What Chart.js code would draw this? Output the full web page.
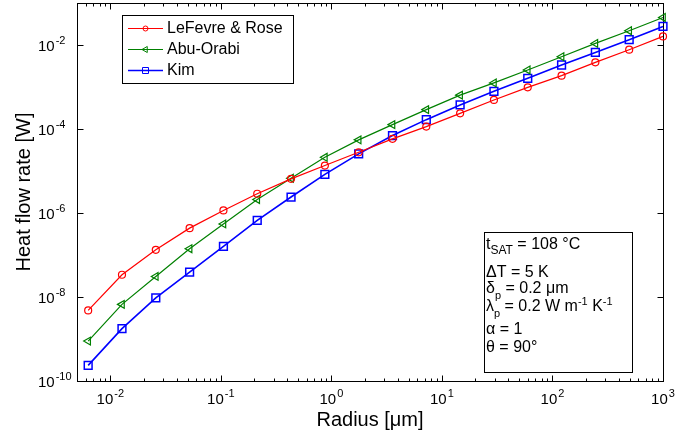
<!DOCTYPE html>
<html><head><meta charset="utf-8">
<script src="https://cdn.jsdelivr.net/npm/chart.js@4/dist/chart.umd.min.js"></script>
<style>html,body{margin:0;padding:0;background:#fff;}#wrap{width:689px;height:436px;}</style>
</head><body><div id="wrap"><canvas id="c" width="689" height="436"></canvas></div>
<script>
const radius = [0.00631, 0.01276, 0.02581, 0.0522, 0.1056, 0.2135, 0.4318, 0.8733, 1.766, 3.572, 7.224, 14.61, 29.55, 59.76, 120.9, 244.4, 494.4, 1000];
const lefevreRose = [4.8e-9, 3.39e-8, 1.33e-7, 4.36e-7, 1.15e-6, 2.87e-6, 6.51e-6, 1.35e-5, 2.79e-5, 5.82e-5, 1.14e-4, 2.36e-4, 4.92e-4, 9.81e-4, 1.86e-3, 3.86e-3, 7.73e-3, 1.60e-2];
const abuOrabi = [8.93e-10, 6.67e-9, 3.09e-8, 1.41e-7, 5.5e-7, 2.1e-6, 6.73e-6, 2.12e-5, 5.51e-5, 1.27e-4, 2.89e-4, 6.4e-4, 1.25e-3, 2.54e-3, 5.27e-3, 1.09e-2, 2.19e-2, 4.53e-2];
const kim = [2.36e-10, 1.76e-9, 9.53e-9, 3.91e-8, 1.6e-7, 6.7e-7, 2.4e-6, 8.3e-6, 2.56e-5, 6.97e-5, 1.67e-4, 3.74e-4, 7.88e-4, 1.61e-3, 3.34e-3, 6.67e-3, 1.34e-2, 2.77e-2];
const seriesNames = ['LeFevre & Rose', 'Abu-Orabi', 'Kim'];
const xTickValues = [0.01, 0.1, 1, 10, 100, 1000];
const yTickValues = [1e-10, 1e-8, 1e-6, 1e-4, 1e-2];
const xTitle = 'Radius [μm]';
const yTitle = 'Heat flow rate [W]';

const FONT = "'Liberation Sans', Arial, Helvetica, sans-serif";
function expOf(v){ return String(Math.round(Math.log10(v))); }
function powLabel(v){ return '10^' + expOf(v); }

const RED = '#ff0000', GREEN = '#008000', BLUE = '#0000ff';

function pts(arr){ return radius.map((x, i) => ({x: x, y: arr[i]})); }

function drawMarker(ctx, style, x, y, r, color, lw){
  ctx.save();
  ctx.strokeStyle = color; ctx.lineWidth = lw;
  ctx.beginPath();
  if (style === 'circle') { ctx.arc(x, y, r, 0, Math.PI*2); }
  else if (style === 'triL') {
    ctx.moveTo(x - r, y); ctx.lineTo(x + r*0.5, y - r*0.866); ctx.lineTo(x + r*0.5, y + r*0.866); ctx.closePath();
  } else if (style === 'rect') { ctx.rect(x - r, y - r, 2*r, 2*r); }
  ctx.stroke();
  ctx.restore();
}

function drawPow(ctx, v, x, y, align){
  const e = expOf(v);
  ctx.font = '15px ' + FONT; const w1 = ctx.measureText('10').width;
  ctx.font = '11px ' + FONT; const w2 = ctx.measureText(e).width;
  const x0 = align === 'center' ? x - (w1 + 1 + w2) / 2 : x;
  ctx.font = '15px ' + FONT; ctx.fillText('10', x0, y);
  ctx.font = '11px ' + FONT; ctx.fillText(e, x0 + w1 + 1, y - 7);
}

function drawRich(ctx, x, y, segs, baseSize){
  let cx = x;
  for (const s of segs){
    const size = s.size || baseSize;
    ctx.font = size + 'px ' + FONT;
    ctx.fillText(s.t, cx, y + (s.dy || 0));
    cx += ctx.measureText(s.t).width;
  }
}

const decor = {
  id: 'decor',
  beforeDatasetsDraw(chart){
    const ctx = chart.ctx, ca = chart.chartArea;
    const xs = chart.scales.x, ys = chart.scales.y;
    const L = Math.round(ca.left) + 0.5, R = Math.round(ca.right) + 0.5, T = Math.round(ca.top) + 0.5, B = Math.round(ca.bottom) + 0.5;
    ctx.save();
    ctx.strokeStyle = '#000'; ctx.lineWidth = 1;
    ctx.strokeRect(L, T, R - L, B - T);
    ctx.beginPath();
    for (let e = -3; e <= 3; e++){
      for (let m = 1; m <= 9; m++){
        const v = m * Math.pow(10, e);
        if (v < xs.min * 0.999 || v > xs.max * 1.001) continue;
        const px = Math.round(xs.getPixelForValue(v)) + 0.5;
        const len = m === 1 ? 6 : 3;
        ctx.moveTo(px, B); ctx.lineTo(px, B - len);
        ctx.moveTo(px, T); ctx.lineTo(px, T + len);
      }
    }
    for (const v of yTickValues){
      const py = Math.round(ys.getPixelForValue(v)) + 0.5;
      ctx.moveTo(L, py); ctx.lineTo(L + 6, py);
      ctx.moveTo(R, py); ctx.lineTo(R - 6, py);
    }
    ctx.stroke();
    ctx.fillStyle = '#000'; ctx.textBaseline = 'alphabetic'; ctx.textAlign = 'left';
    for (const t of xs.ticks){
      drawPow(ctx, t.value, xs.getPixelForValue(t.value), ca.bottom + 22.5, 'center');
    }
    for (const t of ys.ticks){
      drawPow(ctx, t.value, 38, ys.getPixelForValue(t.value) + 5.5, 'left');
    }
    ctx.restore();
  },
  afterDraw(chart){
    const ctx = chart.ctx;
    ctx.save();
    // legend
    ctx.fillStyle = '#fff'; ctx.fillRect(122, 15, 171, 68);
    ctx.strokeStyle = '#000'; ctx.lineWidth = 1; ctx.strokeRect(122.5, 15.5, 171, 68);
    const rows = [28.5, 49.5, 70.5];
    const cols = [RED, GREEN, BLUE];
    const styles = ['circle', 'triL', 'rect'];
    const sizes = [2.5, 3.5, 3];
    ctx.textBaseline = 'middle'; ctx.textAlign = 'left';
    chart.data.datasets.forEach((ds, i) => {
      const y = rows[i];
      ctx.strokeStyle = cols[i]; ctx.lineWidth = ds.borderWidth;
      ctx.beginPath(); ctx.moveTo(128, y); ctx.lineTo(163, y); ctx.stroke();
      drawMarker(ctx, styles[i], 145.5, y, sizes[i], cols[i], 1);
      ctx.fillStyle = '#000'; ctx.font = '16px ' + FONT;
      ctx.fillText(ds.label, 167, y + 0.5);
    });
    // annotation box
    ctx.fillStyle = '#fff'; ctx.fillRect(484, 232, 148, 140);
    ctx.strokeStyle = '#000'; ctx.lineWidth = 1; ctx.strokeRect(484.5, 232.5, 148, 140);
    ctx.fillStyle = '#000'; ctx.textBaseline = 'alphabetic';
    const X = 486, S = 16, s = 11;
    drawRich(ctx, X, 249, [{t:'t'}, {t:'SAT', size:12, dy:5}, {t:' = 108 °C'}], S);
    drawRich(ctx, X, 277, [{t:'ΔT = 5 K'}], S);
    drawRich(ctx, X, 293, [{t:'δ'}, {t:'p', size:s, dy:6}, {t:' = 0.2 μm'}], S);
    drawRich(ctx, X, 311, [{t:'λ'}, {t:'p', size:s, dy:6}, {t:' = 0.2 W m'}, {t:'-1', size:s, dy:-6}, {t:' K'}, {t:'-1', size:s, dy:-6}], S);
    drawRich(ctx, X, 334, [{t:'α = 1'}], S);
    drawRich(ctx, X, 352, [{t:'θ = 90°'}], S);
    ctx.restore();
  }
};

Chart.defaults.font.family = FONT;
Chart.defaults.color = '#000';

new Chart(document.getElementById('c'), {
  type: 'line',
  data: {
    datasets: [
      {label: seriesNames[0], data: pts(lefevreRose), borderColor: RED, borderWidth: 1.2, pointStyle: 'circle', pointRadius: 3.5, pointBorderColor: RED, pointBackgroundColor: 'rgba(0,0,0,0)', pointBorderWidth: 1.2, clip: false, tension: 0},
      {label: seriesNames[1], data: pts(abuOrabi), borderColor: GREEN, borderWidth: 1.2, pointStyle: 'triangle', rotation: -90, pointRadius: 4.5, pointBorderColor: GREEN, pointBackgroundColor: 'rgba(0,0,0,0)', pointBorderWidth: 1.2, clip: false, tension: 0},
      {label: seriesNames[2], data: pts(kim), borderColor: BLUE, borderWidth: 1.6, pointStyle: 'rect', pointRadius: 5.5, pointBorderColor: BLUE, pointBackgroundColor: 'rgba(0,0,0,0)', pointBorderWidth: 1.5, clip: false, tension: 0}
    ]
  },
  options: {
    responsive: false, animation: false, devicePixelRatio: 1,
    layout: {autoPadding: false, padding: {left: 38, right: 26, top: 3, bottom: 0}},
    plugins: {legend: {display: false}, tooltip: {enabled: false}},
    scales: {
      x: {
        type: 'logarithmic', min: 0.005, max: 1000,
        afterBuildTicks: s => { s.ticks = xTickValues.map(v => ({value: v})); },
        afterFit: s => { s.height = 55; },
        grid: {display: false}, border: {display: false},
        ticks: {display: false, callback: v => powLabel(v), autoSkip: false},
        title: {display: true, text: xTitle, font: {size: 20, family: FONT}, color: '#000', padding: {top: 0, bottom: 4}}
      },
      y: {
        type: 'logarithmic', min: 1e-10, max: 0.1,
        afterBuildTicks: s => { s.ticks = yTickValues.map(v => ({value: v})); },
        afterFit: s => { s.width = 39; },
        grid: {display: false}, border: {display: false},
        ticks: {display: false, callback: v => powLabel(v), autoSkip: false},
        title: {display: true, text: yTitle, font: {size: 20, family: FONT}, color: '#000', padding: {top: -25.5, bottom: 0}}
      }
    }
  },
  plugins: [decor]
});
</script></body></html>
